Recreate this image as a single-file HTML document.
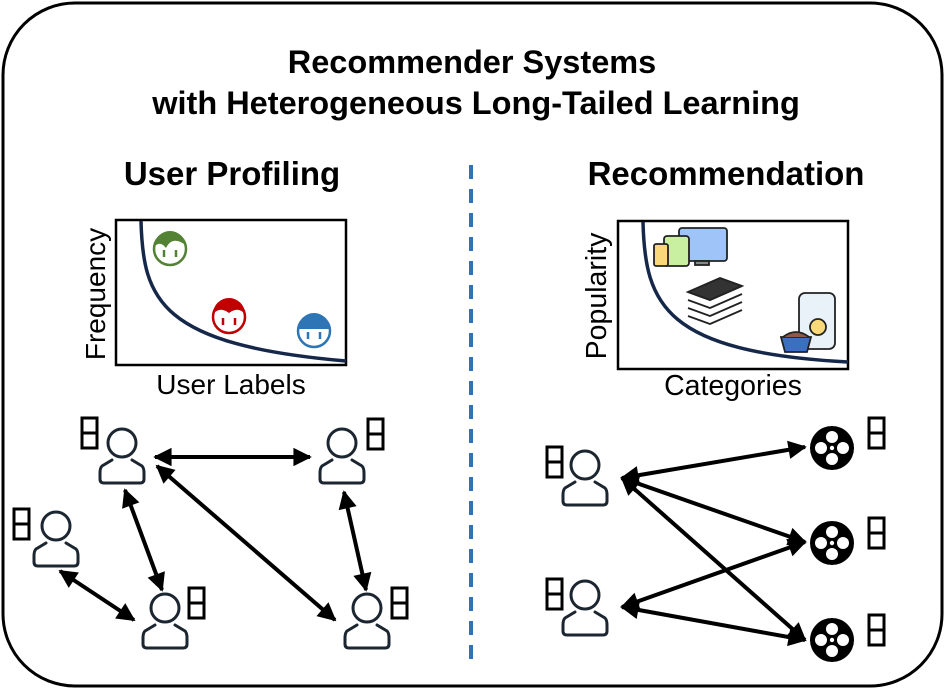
<!DOCTYPE html>
<html><head><style>body{margin:0;background:#fff}svg{display:block}</style></head><body>
<svg width="945" height="689" viewBox="0 0 945 689" xmlns="http://www.w3.org/2000/svg" font-family="Liberation Sans, sans-serif">
<defs>
<marker id="ah" viewBox="0 0 10 10" refX="9" refY="5" markerWidth="5.2" markerHeight="4.6" orient="auto-start-reverse" markerUnits="strokeWidth"><path d="M0,0 L10,5 L0,10 z" fill="#000"/></marker>
<g id="user" fill="none" stroke="#1c2630" stroke-width="3" stroke-linecap="round" stroke-linejoin="round">
<circle cx="0" cy="0" r="14"/>
<path d="M-10,17 L-20,23 Q-22,25 -22,30 L-22,36 Q-22,40 -18,40 L18,40 Q22,40 22,36 L22,30 Q22,25 20,23 L10,17"/>
</g>
<g id="box" fill="none" stroke="#000" stroke-width="3"><rect x="0" y="0" width="15" height="30"/><line x1="0" y1="15" x2="15" y2="15"/></g>
<g id="reel"><circle r="22" fill="#000"/><circle cx="0" cy="-11" r="6" fill="#fff"/><circle cx="0" cy="11" r="6" fill="#fff"/><circle cx="-11" cy="0" r="6" fill="#fff"/><circle cx="11" cy="0" r="6" fill="#fff"/><circle r="2.2" fill="#fff"/></g>
</defs>
<rect x="3" y="3" width="939" height="683" rx="72" fill="#fff" stroke="#000" stroke-width="3"/>
<text x="472" y="73" font-size="32.5" font-weight="bold" text-anchor="middle">Recommender Systems</text>
<text x="476" y="114" font-size="32.5" font-weight="bold" text-anchor="middle">with Heterogeneous Long-Tailed Learning</text>
<text x="232" y="185" font-size="33" font-weight="bold" text-anchor="middle">User Profiling</text>
<text x="726" y="185" font-size="33" font-weight="bold" text-anchor="middle">Recommendation</text>
<line x1="471" y1="165" x2="471" y2="662" stroke="#2e75b6" stroke-width="4" stroke-dasharray="14,10"/>
<!-- left chart -->
<rect x="116" y="220" width="230" height="145" fill="none" stroke="#000" stroke-width="2.5"/>
<path d="M141,221 C143,300 160,345 346,361" fill="none" stroke="#16284a" stroke-width="3.5"/>
<text transform="translate(105,294) rotate(-90)" font-size="28" text-anchor="middle">Frequency</text>
<text x="231" y="394" font-size="28" text-anchor="middle">User Labels</text>
<g stroke-width="2.5">
<circle cx="170" cy="249" r="16" fill="#fff" stroke="#548235"/><path d="M154,247 A16,16 0 0 1 186,247 L184,244 Q172,236 166,248 Q160,240 154,247z" fill="#548235"/>
<line x1="164" y1="250" x2="164" y2="257" stroke="#548235"/><line x1="176" y1="250" x2="176" y2="257" stroke="#548235"/>
<circle cx="229" cy="317" r="16" fill="#fff" stroke="#c00000"/><path d="M213,314 A16,16 0 0 1 245,314 Q238,306 229,313 Q220,306 213,314z" fill="#c00000"/>
<line x1="223" y1="318" x2="223" y2="325" stroke="#c00000"/><line x1="235" y1="318" x2="235" y2="325" stroke="#c00000"/>
<circle cx="314" cy="331" r="16" fill="#fff" stroke="#2e75b6"/><path d="M298,329 A16,16 0 0 1 330,329z" fill="#2e75b6"/>
<line x1="308" y1="332" x2="308" y2="339" stroke="#2e75b6"/><line x1="320" y1="332" x2="320" y2="339" stroke="#2e75b6"/>
</g>
<!-- right chart -->
<rect x="618" y="221" width="230" height="148" fill="none" stroke="#000" stroke-width="2.5"/>
<path d="M643,222 C645,305 665,352 848,362" fill="none" stroke="#16284a" stroke-width="3.5"/>
<text transform="translate(606,296) rotate(-90)" font-size="28.5" text-anchor="middle">Popularity</text>
<text x="733" y="395" font-size="28.5" text-anchor="middle">Categories</text>
<g stroke="#222" stroke-width="1.8">
<rect x="679" y="228" width="48" height="33" rx="3" fill="#9fc5f8"/><rect x="695" y="261" width="14" height="4" fill="#888"/>
<rect x="664" y="236" width="25" height="30" rx="3" fill="#c9f0a0"/>
<rect x="654" y="244" width="14" height="22" rx="2" fill="#f8d878"/>
<path d="M688,292 L720,278 L742,286 L710,300z" fill="#333"/>
<path d="M688,292 L710,300 L742,286 M688,300 L710,308 L742,294 M688,308 L710,316 L742,302 M688,316 L710,324 L742,310" fill="none"/>
<rect x="799" y="293" width="36" height="56" rx="6" fill="#e8f2f8"/>
<circle cx="818" cy="327" r="8" fill="#f8d878"/>
<path d="M781,337 L811,337 L807,352 L785,352z" fill="#3a6fc4"/><path d="M783,337 Q796,327 809,337" fill="#8b5a4a"/>
</g>
<!-- left graph -->
<g stroke="#000" stroke-width="4" fill="none" marker-start="url(#ah)" marker-end="url(#ah)">
<line x1="155" y1="457" x2="310" y2="457"/>
<line x1="125" y1="490" x2="162" y2="590"/>
<line x1="157" y1="466" x2="335" y2="620"/>
<line x1="344" y1="492" x2="366" y2="590"/>
<line x1="60" y1="571" x2="134" y2="620"/>
</g>
<use href="#user" x="122" y="443"/><use href="#box" x="82" y="418"/>
<use href="#user" x="342" y="443"/><use href="#box" x="368" y="419"/>
<use href="#user" x="56" y="526"/><use href="#box" x="14" y="509"/>
<use href="#user" x="165" y="608"/><use href="#box" x="189" y="588"/>
<use href="#user" x="367" y="608"/><use href="#box" x="392" y="588"/>
<!-- right graph -->
<g stroke="#000" stroke-width="4" fill="none" marker-start="url(#ah)" marker-end="url(#ah)">
<line x1="622" y1="478" x2="805" y2="447"/>
<line x1="622" y1="478" x2="805" y2="542"/>
<line x1="622" y1="478" x2="805" y2="640"/>
<line x1="622" y1="607" x2="805" y2="542"/>
<line x1="622" y1="607" x2="805" y2="640"/>
</g>
<use href="#user" x="585" y="465"/><use href="#box" x="547" y="447"/>
<use href="#user" x="585" y="595"/><use href="#box" x="547" y="579"/>
<use href="#reel" x="832" y="448"/><use href="#box" x="869" y="418"/>
<use href="#reel" x="832" y="543"/><use href="#box" x="869" y="518"/>
<use href="#reel" x="832" y="640"/><use href="#box" x="869" y="615"/>
</svg>
</body></html>
